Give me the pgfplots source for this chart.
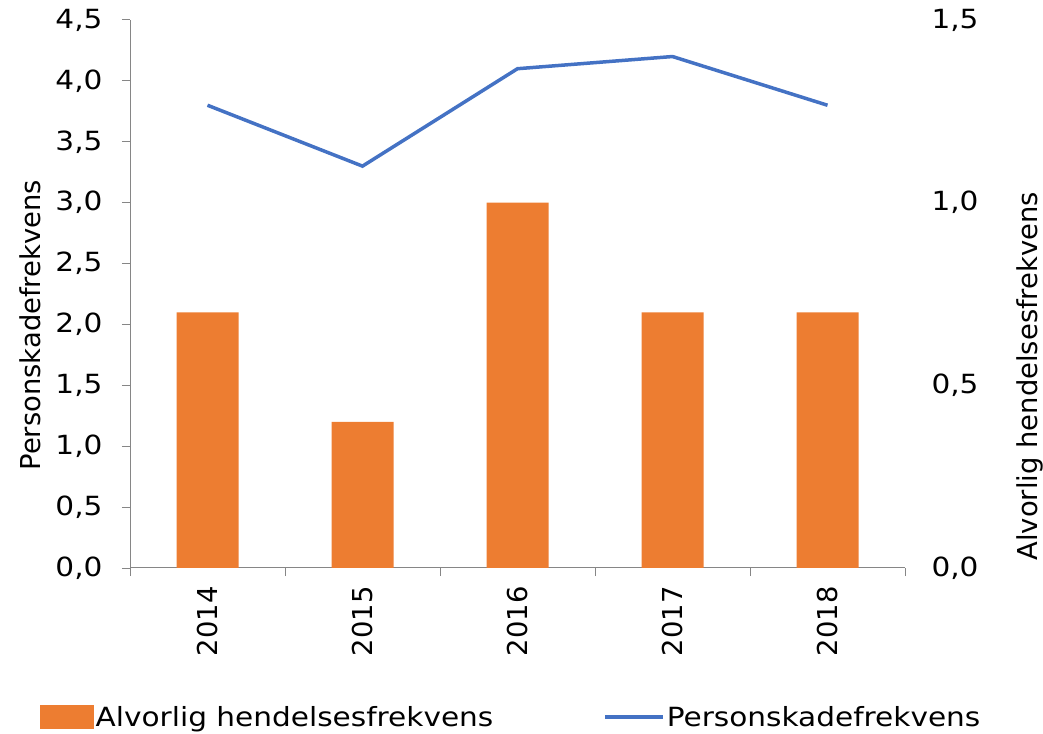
\documentclass[border=0pt]{standalone}
\usepackage{pgfplots}
\pgfplotsset{compat=1.18}
\usepackage{fontspec}
\setmainfont{DejaVu Sans}
\newfontfamily\hfont[FakeStretch=1.12]{DejaVu Sans}
\definecolor{barorange}{HTML}{ED7D31}
\definecolor{lineblue}{HTML}{4472C4}
\definecolor{axisgray}{HTML}{868686}
\begin{document}
\begin{tikzpicture}
\path[use as bounding box] (0,0) rectangle (1043bp,734bp);
\pgfplotsset{
  common/.style={
    scale only axis, width=775bp, height=548bp,
    at={(130bp,166bp)}, anchor=south west,
    xmin=-0.5, xmax=4.5,
    font=\fontsize{27.5}{33}\selectfont,
    tick align=outside,
    major tick length=8bp,
    tick style={axisgray, line width=1bp},
    yticklabel style={font=\hfont\fontsize{26.5}{32}\selectfont, /pgf/number format/use comma, /pgf/number format/fixed, /pgf/number format/fixed zerofill, /pgf/number format/precision=1, /pgf/number format/assume math mode=true},
  }
}
\begin{axis}[common,
  axis y line*=right, axis x line*=bottom,
  ymin=0, ymax=1.5, ytick={0,0.5,1,1.5},
  y axis line style={draw=none},
  ytick style={draw=none},
  yticklabel style={xshift=15bp},
  x axis line style={axisgray, line width=1bp, -},
  xtick={-0.5,0.5,1.5,2.5,3.5,4.5},
  xticklabels={,,,,,},
  extra x ticks={0,1,2,3,4},
  extra x tick labels={2014,2015,2016,2017,2018},
  extra x tick style={major tick length=0pt, tick style={draw=none}, xticklabel style={rotate=90, anchor=east, xshift=-15bp}},
  ylabel={Alvorlig hendelsesfrekvens},
  ylabel style={at={(1.161,0.350)}, anchor=center},
]
\addplot[ybar, bar width=62bp, fill=barorange, draw=none] coordinates {(0,0.7) (1,0.4) (2,1.0) (3,0.7) (4,0.7)};
\end{axis}
\begin{axis}[common,
  axis y line*=left, axis x line=none,
  ymin=0, ymax=4.5, ytick={0,0.5,...,4.5},
  yticklabel style={xshift=-16bp},
  y axis line style={axisgray, line width=1bp, -},
  ylabel={Personskadefrekvens},
  ylabel style={at={(-0.129,0.443)}, anchor=center},
  legend columns=2,
  legend style={draw=none, fill=none, at={(0.492,-0.272)}, anchor=center,
    font=\hfont\fontsize{26.5}{32}\selectfont,
    nodes={inner xsep=2bp},
    /tikz/every even column/.append style={column sep=108bp}},
]
\addlegendimage{legend image code/.code={\fill[barorange] (0bp,-11.5bp) rectangle (53bp,11.5bp);}}
\addlegendentry{Alvorlig hendelsesfrekvens}
\addplot[lineblue, line width=3.5bp, mark=none,
  legend image code/.code={\draw[lineblue, line width=3.5bp] (0bp,0bp) -- (58bp,0bp);}]
  coordinates {(0,3.8) (1,3.3) (2,4.1) (3,4.2) (4,3.8)};
\addlegendentry{Personskadefrekvens}
\end{axis}
\end{tikzpicture}
\end{document}
